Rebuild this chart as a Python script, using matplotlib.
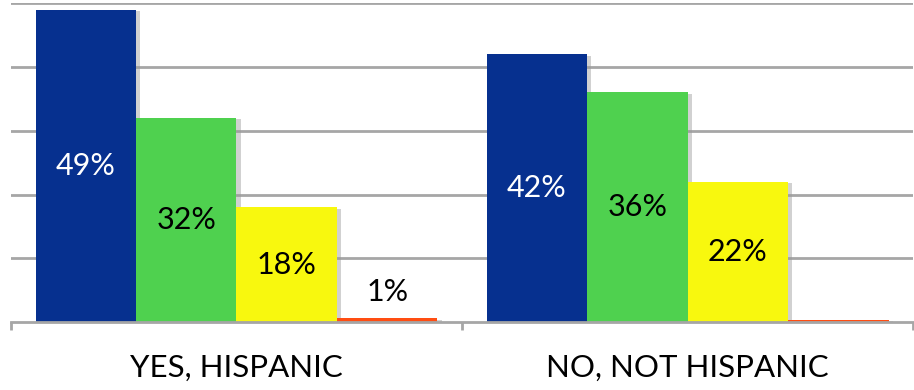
import numpy as np
import matplotlib
matplotlib.use('Agg')
import matplotlib.pyplot as plt
import matplotlib.patheffects as pe

# data
categories = ['YES, HISPANIC', 'NO, NOT HISPANIC']
series_blue = [49, 42]
series_green = [32, 36]
series_yellow = [18, 22]
series_red = [0.6, 0.4]
labels_blue = ['49%', '42%']
labels_green = ['32%', '36%']
labels_yellow = ['18%', '22%']
labels_red = ['1%', '']

series = [series_blue, series_green, series_yellow, series_red]
labels = [labels_blue, labels_green, labels_yellow, labels_red]
colors = ['#06308f', '#4fd14f', '#f8f80e', '#ff4d12']
text_colors = ['white', 'black', 'black', 'black']

plt.rcParams['font.family'] = ['Lato', 'DejaVu Sans']

fig = plt.figure(figsize=(9.14, 3.9), dpi=100)
ax = fig.add_axes([0.012, 0.174, 0.987, 0.818])

x = np.arange(len(categories))
width = 0.2228
shadow = [pe.SimplePatchShadow(offset=(3, -1), shadow_rgbFace='#999999', alpha=0.45), pe.Normal()]

for i, (vals, labs) in enumerate(zip(series, labels)):
    pos = x + (i - 1.5) * width
    bars = ax.bar(pos, vals, width, color=colors[i], zorder=3)
    for b in bars:
        b.set_path_effects(shadow)
    for p, v, t in zip(pos, vals, labs):
        if not t:
            continue
        if v > 5:
            ax.text(p, v / 2, t, ha='center', va='center', fontsize=22,
                    color=text_colors[i], zorder=4)
        else:
            ax.text(p, v + 4.2, t, ha='center', va='center', fontsize=22,
                    color='black', zorder=4)

ax.set_xlim(-0.5, len(categories) - 0.5)
ax.set_ylim(0, 50)
ax.set_yticks(np.arange(10, 51, 10))
ax.yaxis.grid(True, color='#a6a6a6', linewidth=2, zorder=0)
ax.tick_params(axis='y', left=False, labelleft=False)

ax.set_xticks(x)
ax.set_xticklabels(categories, fontsize=22.5)
ax.tick_params(axis='x', which='major', length=0, pad=23)
ax.set_xticks(np.arange(-0.5, len(categories), 1), minor=True)
ax.tick_params(axis='x', which='minor', length=6, width=2, color='#a6a6a6')

for s in ['top', 'right', 'left']:
    ax.spines[s].set_visible(False)
ax.spines['bottom'].set_color('#a6a6a6')
ax.spines['bottom'].set_linewidth(2)
ax.spines['bottom'].set_zorder(5)

fig.savefig('out.png', dpi=100)
